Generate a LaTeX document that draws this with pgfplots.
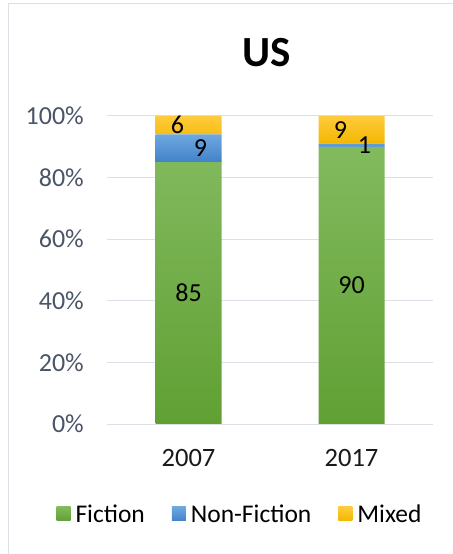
\documentclass[border=0pt]{standalone}
\usepackage{fontspec}
\setmainfont{Carlito}
\usepackage{pgfplots}
\pgfplotsset{compat=1.18}

\definecolor{gridgray}{HTML}{DCE0E6}
\definecolor{ticklab}{HTML}{4A5568}
\definecolor{fictop}{HTML}{82BA5E}
\definecolor{ficbot}{HTML}{60A033}
\definecolor{nftop}{HTML}{6EA8E0}
\definecolor{nfbot}{HTML}{4282C9}
\definecolor{mxtop}{HTML}{FFCB3C}
\definecolor{mxbot}{HTML}{F3B700}

\newcommand{\lbl}{\fontsize{26bp}{31bp}\selectfont}

\begin{document}
\begin{tikzpicture}
\useasboundingbox (0,0) rectangle (453bp,554bp);
% chart frame (only left and top edges are visible)
\draw[gridgray, line width=1bp] (8bp,0) -- (8bp,550bp) -- (453bp,550bp);

\begin{axis}[
  at={(107bp,130bp)}, anchor=south west,
  scale only axis,
  width=326bp, height=308bp,
  ybar stacked,
  bar width=66bp,
  xmin=-0.5, xmax=1.5,
  ymin=0, ymax=100,
  xtick={0,1}, xticklabels={2007,2017},
  ytick={0,20,40,60,80,100},
  yticklabels={0\%,20\%,40\%,60\%,80\%,100\%},
  major tick length=0pt,
  axis x line*=bottom,
  axis y line*=left,
  x axis line style={draw=gridgray, line width=1bp, -},
  y axis line style={draw=none},
  ymajorgrids,
  grid style={gridgray, line width=1bp},
  xticklabel style={font=\fontsize{26.5bp}{31bp}\selectfont, text=black!90, anchor=center, inner sep=0pt, yshift=-34bp},
  yticklabel style={font=\lbl, text=ticklab, anchor=east, inner sep=0pt, xshift=-23bp},
  legend columns=3,
  legend style={at={(0.408,-0.292)}, anchor=center, draw=none, fill=none,
    font=\fontsize{25.5bp}{30bp}\selectfont, text=black,
    /tikz/every odd column/.append style={column sep=3bp},
    /tikz/every even column/.append style={column sep=25bp}},
  legend image code/.code={\path[#1, draw=none] (0bp,-7bp) rectangle (14bp,7bp);},
]
\addplot[draw=none, top color=fictop, bottom color=ficbot] coordinates {(0,85) (1,90)};
\addlegendentry{Fiction}
\addplot[draw=none, top color=nftop, bottom color=nfbot] coordinates {(0,9) (1,1)};
\addlegendentry{Non-Fiction}
\addplot[draw=none, top color=mxtop, bottom color=mxbot] coordinates {(0,6) (1,9)};
\addlegendentry{Mixed}

% label anchors, used after the axis
\coordinate (f07) at (axis cs:0,42.5);
\coordinate (f17) at (axis cs:1,45);
\coordinate (n07) at (axis cs:0,89.5);
\coordinate (n17) at (axis cs:1,90.5);
\coordinate (m07) at (axis cs:0,97);
\coordinate (m17) at (axis cs:1,95.5);
\end{axis}

% data labels
\node[font=\lbl] at (f07) {85};
\node[font=\lbl] at (f17) {90};
\node[font=\lbl, xshift=12bp] at (n07) {9};
\node[font=\lbl, xshift=13bp] at (n17) {1};
\node[font=\lbl, xshift=-11bp] at (m07) {6};
\node[font=\lbl, xshift=-11bp] at (m17) {9};

\node[font=\fontsize{43bp}{50bp}\selectfont\bfseries] at (267bp,501bp) {US};
\end{tikzpicture}
\end{document}
